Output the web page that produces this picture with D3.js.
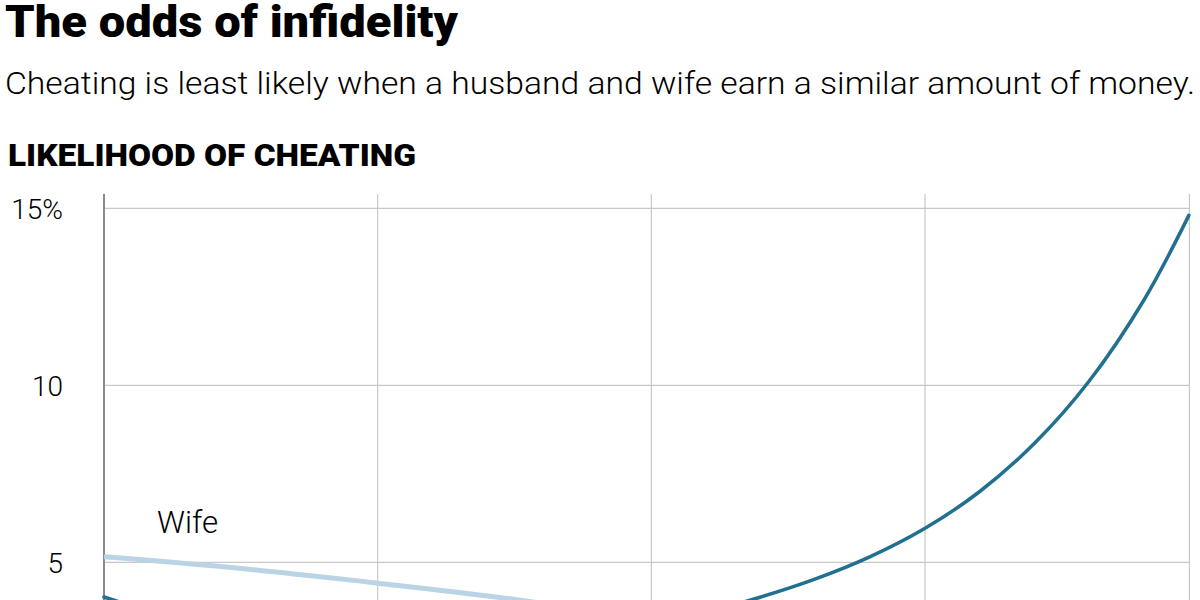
<!DOCTYPE html>
<html>
<head>
<meta charset="utf-8">
<script src="https://cdn.jsdelivr.net/npm/d3@7"></script>
<style>
  body { margin: 0; background: #fff; }
  svg { display: block; }
  text { font-family: "Roboto", "Liberation Sans", sans-serif; fill: #000; }
</style>
</head>
<body>
<svg id="graph" width="1200" height="600"></svg>
<script>
// share of household income (hidden axis), likelihood of cheating in %
const husbandX = [0, 0.05, 0.1, 0.2, 0.3, 0.4, 0.5, 0.55, 0.6, 0.65, 0.7, 0.75, 0.8, 0.85, 0.9, 0.95, 0.991];
const husbandY = [4.02, 3.55, 3.2, 2.85, 2.75, 2.9, 3.3, 3.6, 4.02, 4.53, 5.16, 5.96, 7.0, 8.36, 10.12, 12.41, 14.8];
const wifeX = [0, 0.1, 0.25, 0.38, 0.5, 0.75, 1.0];
const wifeY = [5.16, 4.9, 4.41, 3.93, 3.35, 2.0, 0.6];
const xTicks = [0, 0.25, 0.5, 0.75];
const xEnd = 0.9915;
const yTicks = [5, 10, 15];
const yTickLabels = ["5", "10", "15%"];

const svg = d3.select("#graph");

const x = d3.scaleLinear().domain([0, 1]).range([104, 1198.7]);
const y = d3.scaleLinear().domain([0, 15]).range([739.3, 208.3]);

// Titles
svg.append("text")
    .attr("x", 5).attr("y", 37)
    .attr("textLength", 453).attr("lengthAdjust", "spacingAndGlyphs")
    .style("font-size", "44px").style("font-weight", 900)
    .text("The odds of infidelity");

svg.append("text")
    .attr("x", 5).attr("y", 94)
    .attr("textLength", 1190).attr("lengthAdjust", "spacingAndGlyphs")
    .style("font-size", "31px").style("font-weight", 300)
    .text("Cheating is least likely when a husband and wife earn a similar amount of money.");

svg.append("text")
    .attr("x", 8).attr("y", 166)
    .attr("textLength", 408).attr("lengthAdjust", "spacingAndGlyphs")
    .style("font-size", "31px").style("font-weight", 900)
    .text("LIKELIHOOD OF CHEATING");

const g = svg.append("g");

// Horizontal grid
g.selectAll(".hgrid")
    .data(yTicks)
    .enter().append("line")
        .attr("class", "hgrid")
        .attr("x1", x(0)).attr("x2", x(xEnd))
        .attr("y1", d => y(d)).attr("y2", d => y(d))
        .attr("stroke", "#c8c8c8").attr("stroke-width", 1.2);

// Vertical grid
g.selectAll(".vgrid")
    .data(xTicks.slice(1).concat([xEnd]))
    .enter().append("line")
        .attr("class", "vgrid")
        .attr("x1", d => x(d)).attr("x2", d => x(d))
        .attr("y1", 194).attr("y2", 600)
        .attr("stroke", "#c8c8c8").attr("stroke-width", 1.2);

// Y axis line
g.append("line")
    .attr("x1", x(0)).attr("x2", x(0))
    .attr("y1", 194).attr("y2", 600)
    .attr("stroke", "#8a8a8a").attr("stroke-width", 2);

// Y tick labels
g.selectAll(".ylabel")
    .data(yTicks)
    .enter().append("text")
        .attr("class", "ylabel")
        .attr("x", 63)
        .attr("y", d => y(d) + 11)
        .attr("text-anchor", "end")
        .style("font-size", "28px").style("font-weight", 300)
        .text((d, i) => yTickLabels[i]);

const line = d3.line()
    .x(d => x(d[0]))
    .y(d => y(d[1]))
    .curve(d3.curveCatmullRom.alpha(0.5));

g.append("path")
    .datum(d3.zip(wifeX, wifeY))
    .attr("d", line)
    .attr("fill", "none")
    .attr("stroke", "#bad4e6")
    .attr("stroke-width", 5);

g.append("path")
    .datum(d3.zip(husbandX, husbandY))
    .attr("d", line)
    .attr("fill", "none")
    .attr("stroke", "#22708f")
    .attr("stroke-width", 3.5)
    .attr("stroke-linecap", "round");

// Series label
g.append("text")
    .attr("x", 157).attr("y", 533)
    .attr("textLength", 61).attr("lengthAdjust", "spacingAndGlyphs")
    .style("font-size", "32px").style("font-weight", 300)
    .text("Wife");
</script>
</body>
</html>
